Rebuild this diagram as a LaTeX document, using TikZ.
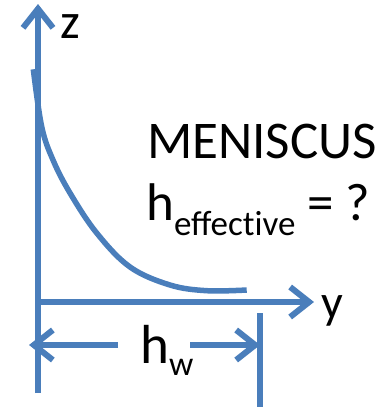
\documentclass[tikz,border=0pt]{standalone}
\usepackage{fontspec}
\setmainfont{Carlito}
\usepackage{tikz}
\usetikzlibrary{arrows.meta,positioning}
\definecolor{mblue}{HTML}{4A7EBB}

\begin{document}
\begin{tikzpicture}[x=1pt, y=-1pt,
  axis/.style={draw=mblue, line width=6pt, -{Straight Barb[length=19pt, width=30pt]}},
  wall/.style={draw=mblue, line width=6pt},
  big/.style={font=\fontsize{53}{64}\selectfont, inner sep=0pt, anchor=base west},
]
\useasboundingbox (0,0) rectangle (388,407);

% axes
\coordinate (zbot) at (38,393);
\coordinate (ztop) at (38,4);
\coordinate (ybeg) at (35,302);
\coordinate (yend) at (314,302);
\draw[axis] (zbot) -- (ztop);
\draw[axis] (ybeg) -- (yend);
\node[big, font=\fontsize{50}{60}\selectfont] (zlbl) at (60,38) {z};
\node[big, font=\fontsize{48}{58}\selectfont] (ylbl) at (321,318) {y};

% meniscus profile
\draw[wall, line width=5.5pt] plot[smooth, tension=0.6] coordinates {(33.3,69.3) (41.7,126.7) (53,160) (70,193) (96.7,233) (130,267) (170,285) (206.7,290.7) (246.7,290)};

\node[big] (title) at (147,158) {MENISCUS};
\node[big] (heff) at (146,220) {h\raisebox{-15pt}{\fontsize{35}{42}\selectfont effect\kern0pt ive} = ?};

% wall height
\coordinate (wtop) at (260,313);
\coordinate (wbot) at (260,407);
\draw[wall] (wtop) -- (wbot);
\node[big, font=\fontsize{55}{66}\selectfont] (hw) at (140,363) {h\raisebox{-12pt}{\fontsize{34}{40}\selectfont w}};
\coordinate (dimL) at (118,345);
\coordinate (dimR) at (190,345);
\coordinate (tipL) at (29,345);
\coordinate (tipR) at (wtop |- dimR);
\draw[axis] (dimL) -- (tipL);
\draw[axis] (dimR) -- (tipR);
\end{tikzpicture}
\end{document}
